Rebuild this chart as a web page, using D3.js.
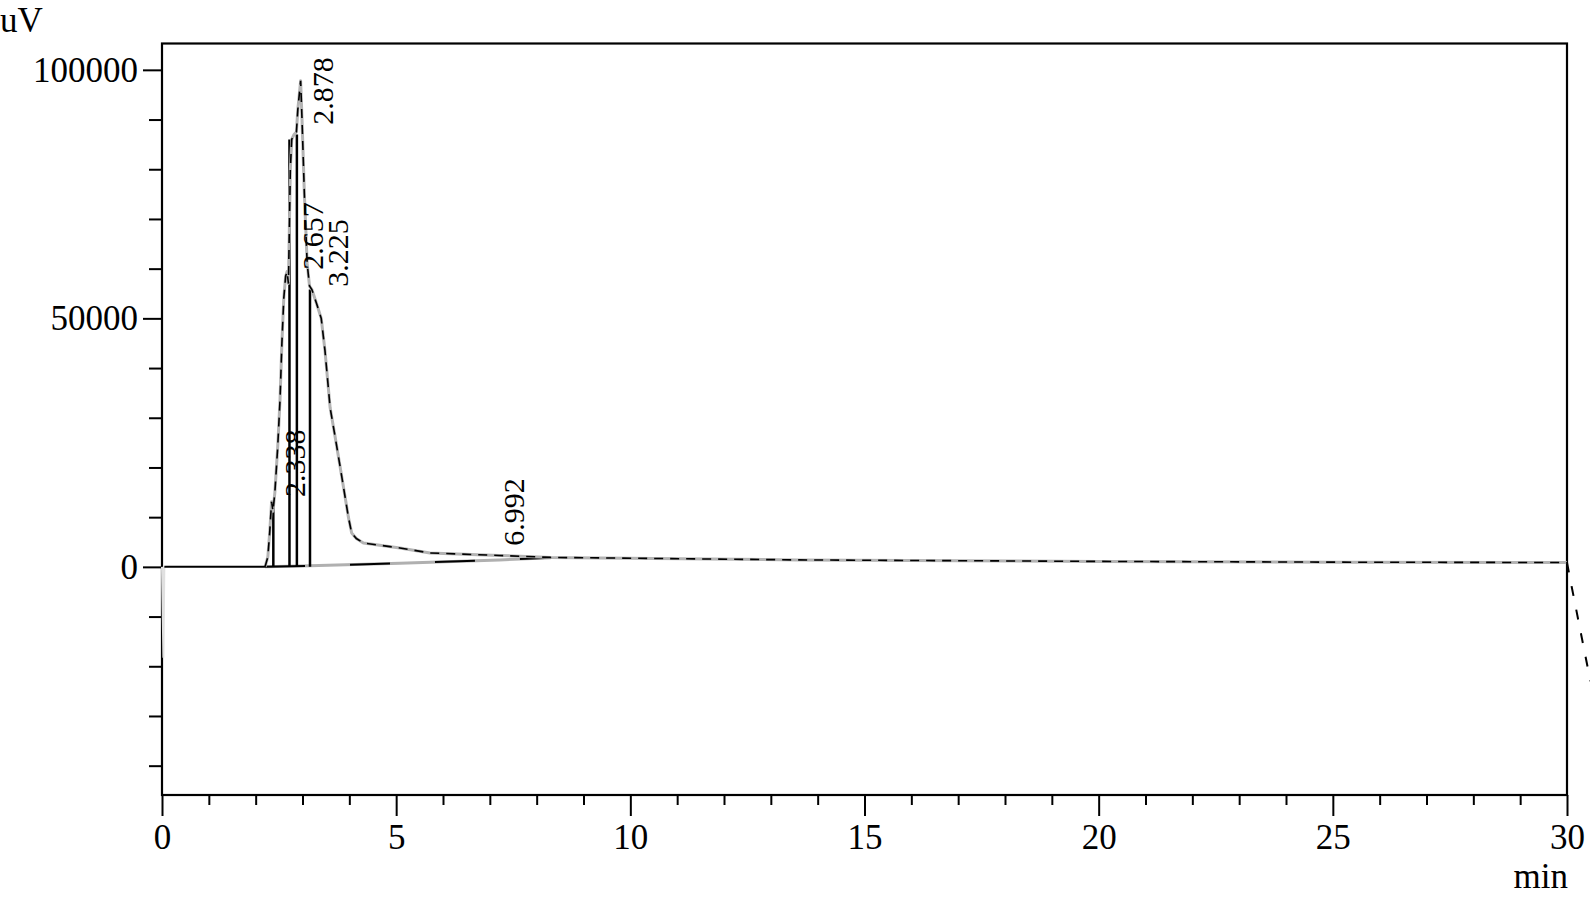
<!DOCTYPE html>
<html><head><meta charset="utf-8">
<script src="https://cdn.jsdelivr.net/npm/d3@7"></script>
<style>
body{margin:0;background:#fff}
svg{display:block}
text{font-family:"Liberation Serif","Times New Roman",serif;fill:#000}
</style>
</head><body>
<svg id="c" width="1590" height="899"></svg>
<script>
// chromatogram signal (min, uV)
const time   = [0.00, 0.03, 0.05, 2.20, 2.26, 2.30, 2.34, 2.37, 2.41, 2.47, 2.52, 2.56, 2.60, 2.64, 2.67, 2.70, 2.74, 2.77, 2.82, 2.87, 2.90, 2.96, 2.99, 3.04, 3.10, 3.15, 3.20, 3.30, 3.40, 3.48, 3.59, 3.70, 3.85, 3.98, 4.05, 4.15, 4.30, 5.08, 5.72, 7.20, 8.30, 9.35, 13.6, 20.0, 25.0, 30.0, 30.1, 30.5];
const signal = [0, -18300, 0, 0, 2000, 7000, 13100, 11200, 15000, 24000, 33600, 45000, 54000, 58500, 59400, 57000, 80000, 86000, 87000, 87500, 92000, 97800, 90000, 75000, 61000, 56500, 55800, 53000, 50000, 43500, 32000, 26000, 17500, 10000, 6800, 5700, 4800, 3800, 2800, 2300, 1900, 1800, 1400, 1100, 950, 870, -4000, -23000];
// integration baseline
const baseTime  = [2.20, 3.16, 5.08, 7.20, 8.30];
const baseValue = [0, 200, 750, 1400, 1850];
// drop lines at peak boundaries
const dropTime  = [2.377, 2.722, 2.880, 3.160];
const dropValue = [12900, 86000, 87000, 55800];
// peak labels and their anchor (data units)
const peakLabels     = ["2.338", "2.657", "2.878", "3.225", "6.992"];
const peakLabelTime  = [3.054, 3.438, 3.651, 3.972, 7.730];
const peakLabelValue = [14080, 59760, 88930, 56340, 4225];
// axis ticks
const xTicks = [0, 5, 10, 15, 20, 25, 30];
const xMinor = d3.range(0, 31, 1).filter(d => d % 5 !== 0);
const yTicks = [0, 50000, 100000];
const yMinor = d3.range(-40000, 100001, 10000).filter(d => d % 50000 !== 0);

const FONT = '"Liberation Serif","Times New Roman",serif';
const svg = d3.select("#c");
const x = d3.scaleLinear([0, 30], [162, 1567]);
const y = d3.scaleLinear([-45900, 105300], [795, 43.5]);

// axes
const fs = 35;
const gx = svg.append("g").attr("transform", "translate(0,795)")
  .call(d3.axisBottom(x).tickValues(xTicks).tickSize(21).tickPadding(8).tickFormat(d3.format("d")));
const gxm = svg.append("g").attr("transform", "translate(0,795)")
  .call(d3.axisBottom(x).tickValues(xMinor).tickSize(10).tickFormat(""));
const gy = svg.append("g").attr("transform", "translate(162,0)")
  .call(d3.axisLeft(y).tickValues(yTicks).tickSize(19).tickPadding(5).tickFormat(d3.format("d")));
const gym = svg.append("g").attr("transform", "translate(162,0)")
  .call(d3.axisLeft(y).tickValues(yMinor).tickSize(13).tickFormat(""));
[gx, gxm, gy, gym].forEach(g => {
  g.select(".domain").remove();
  g.selectAll("line").attr("stroke", "#000").attr("stroke-width", 2);
  g.selectAll("text").attr("font-size", fs).attr("font-family", FONT).attr("fill", "#000");
});

// frame
svg.append("rect").attr("x", 162).attr("y", 43.5).attr("width", 1567 - 162).attr("height", 795 - 43.5)
  .attr("fill", "none").attr("stroke", "#000").attr("stroke-width", 2.2);

// axis titles
svg.append("text").attr("x", 0).attr("y", 32).attr("font-size", fs).attr("font-family", FONT).text("uV");
svg.append("text").attr("x", 1568).attr("y", 888).attr("text-anchor", "end").attr("font-size", fs).attr("font-family", FONT).text("min");

const pts = time.map((t, i) => [t, signal[i]]);
const line = d3.line().x(d => x(d[0])).y(d => y(d[1]));

// baseline (integration)
const bpts = baseTime.map((t, i) => [t, baseValue[i]]);
svg.append("path").attr("d", line(bpts)).attr("fill", "none").attr("stroke", "#b0b0b0").attr("stroke-width", 3);
svg.append("path").attr("d", line(bpts)).attr("fill", "none").attr("stroke", "#000").attr("stroke-width", 2)
  .attr("stroke-dasharray", "40,45");

// drop lines
svg.append("g").selectAll("line").data(dropTime).join("line")
  .attr("x1", d => x(d)).attr("x2", d => x(d))
  .attr("y1", y(0)).attr("y2", (d, i) => y(dropValue[i]))
  .attr("stroke", "#000").attr("stroke-width", 2.5);

// signal: light start segment, gray underlay + black overlay
svg.append("path").attr("d", line(pts.filter(d => d[0] <= 0.05))).attr("fill", "none")
  .attr("stroke", "#e0e0e0").attr("stroke-width", 2);
svg.append("path").attr("d", line(pts.filter(d => d[0] >= 2.2 && d[0] <= 30.0))).attr("fill", "none")
  .attr("stroke", "#b4b4b4").attr("stroke-width", 3).attr("stroke-linejoin", "round");
svg.append("path").attr("d", line(pts.filter(d => d[0] >= 0.05 && d[0] <= 2.2))).attr("fill", "none")
  .attr("stroke", "#000").attr("stroke-width", 2);
svg.append("path").attr("d", line(pts.filter(d => d[0] >= 2.2 && d[0] <= 30.0))).attr("fill", "none")
  .attr("stroke", "#000").attr("stroke-width", 1.6).attr("stroke-dasharray", "9,7");
svg.append("path").attr("d", line(pts.filter(d => d[0] >= 30.0))).attr("fill", "none")
  .attr("stroke", "#000").attr("stroke-width", 2).attr("stroke-dasharray", "10,14");

// peak labels
svg.append("g").selectAll("text").data(peakLabels).join("text")
  .attr("transform", (d, i) => `translate(${x(peakLabelTime[i])},${y(peakLabelValue[i])}) rotate(-90)`)
  .attr("font-size", 30).attr("font-family", FONT).attr("fill", "#000").text(d => d);
</script>
</body></html>
